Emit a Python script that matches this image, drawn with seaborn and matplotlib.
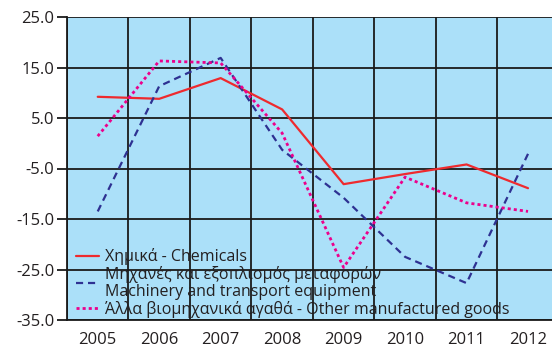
import matplotlib
matplotlib.use("Agg")
import matplotlib.pyplot as plt
from matplotlib.ticker import FixedLocator
import seaborn as sns
import pandas as pd

# Annual percentage change by product group
years = ["2005", "2006", "2007", "2008", "2009", "2010", "2011", "2012"]
chemicals = [9.2, 8.8, 12.9, 6.7, -8.1, -6.1, -4.2, -8.9]
machinery = [-13.5, 11.3, 16.9, -1.3, -10.8, -22.5, -27.7, -2.1]
other_goods = [1.4, 16.3, 15.9, 2.0, -24.6, -6.7, -11.8, -13.5]

labels = [
    "Χημικά - Chemicals",
    "Μηχανές και εξοπλισμός μεταφορών\nMachinery and transport equipment",
    "Άλλα βιομηχανικά αγαθά - Other manufactured goods",
]
yticks = [25.0, 15.0, 5.0, -5.0, -15.0, -25.0, -35.0]

sns.set_theme(style="white")
plt.rcParams["font.family"] = ["Open Sans", "DejaVu Sans"]
plt.rcParams["text.color"] = "#231f20"

df = pd.DataFrame({
    "year": years * 3,
    "value": chemicals + machinery + other_goods,
    "series": [labels[0]] * 8 + [labels[1]] * 8 + [labels[2]] * 8,
})

fig = plt.figure(figsize=(5.52, 3.51), dpi=100)
ax = fig.add_axes([67 / 552, 1 - 320 / 351, 485 / 552, 303 / 351])
ax.set_facecolor("#abe0f9")

palette = {labels[0]: "#ee2a2e", labels[1]: "#2e3192", labels[2]: "#ec008c"}
sns.lineplot(data=df, x="year", y="value", hue="series", style="series",
             palette=palette, dashes=False, sort=False, ax=ax, linewidth=1.6,
             legend=False)

styles = [(None, 1.6), ((0, (3.2, 2.2)), 1.6), ((0, (1.1, 1.1)), 2.0)]
for line, (ls, lw) in zip(ax.get_lines(), styles):
    if ls is not None:
        line.set_linestyle(ls)
    line.set_linewidth(lw)
    line.set_zorder(3)

ax.set_xlim(-0.5, 7.39)
ax.set_ylim(-35, 25)
ax.set_yticks(yticks)
ax.set_yticklabels([f"{v:.1f}" for v in yticks])
ax.xaxis.set_minor_locator(FixedLocator([i - 0.5 for i in range(9)]))
ax.grid(False)
ax.grid(True, which="minor", axis="x", color="#1a1a1a", linewidth=1.3, zorder=1)
ax.grid(True, which="major", axis="y", color="#1a1a1a", linewidth=1.3, zorder=1)
ax.set_axisbelow(True)

ax.tick_params(axis="x", which="both", length=0, labelsize=12, pad=9,
               labelcolor="#231f20")
ax.tick_params(axis="y", which="major", length=7, width=1.3, color="#1a1a1a",
               direction="out", labelsize=12, pad=2, labelcolor="#231f20", left=True)
ax.set_xlabel("")
ax.set_ylabel("")

for side in ["top", "right"]:
    ax.spines[side].set_visible(False)
for side in ["left", "bottom"]:
    ax.spines[side].set_visible(True)
    ax.spines[side].set_color("#1a1a1a")
    ax.spines[side].set_linewidth(1.3)

handles = list(ax.get_lines())
leg = ax.legend(handles, labels, loc="lower left", bbox_to_anchor=(0.018, 0.008),
                frameon=False, fontsize=11.5, handlelength=1.45, handletextpad=0.4,
                labelspacing=0.05, borderpad=0.0, borderaxespad=0.0)
for t in leg.get_texts():
    t.set_linespacing(1.05)

fig.savefig("out.png", dpi=100)
